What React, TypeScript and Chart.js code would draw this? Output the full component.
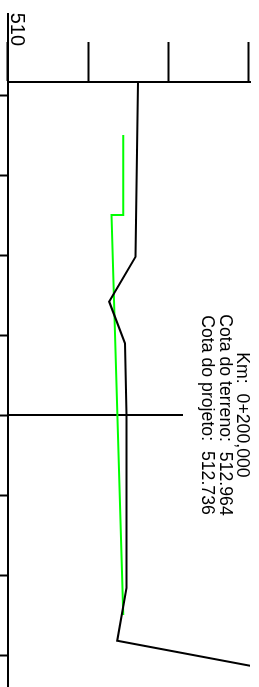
import React, { useEffect, useRef } from 'react';
import { Chart, registerables } from 'chart.js';

Chart.register(...registerables);

// Cross-section data (distance from axis in m, elevation in m)
const terrainDistance = [-20.81, -9.89, -7.08, -4.48, 0, 10.81, 14.11, 16.0];
const terrainElevation = [513.25, 513.19, 512.53, 512.925, 512.964, 512.96, 512.73, 516.75];

const projectDistance = [-17.5, -12.5, -12.5, 12.5];
const projectElevation = [512.883, 512.883, 512.59, 512.88];

const stationDistance = [0, 0];
const stationElevation = [510, 514.375];

const baseDistance = [-25.125, -20.8125];
const baseElevation = [510, 510];

const xTickValues = [-20, -15, -10, -5, 0, 5, 10, 15];
const yTickValues = [510, 512, 514, 516];
const yTickLabels: Record<number, string> = { 510: '510' };

const infoLines = ['Km:  0+200,000', 'Cota do terreno:  512.964', 'Cota do projeto:  512.736'];

const xMin = -20.8125;
const xMax = 17;
const yMin = 510;
const yMax = 516.05;

const toPoints = (xs: number[], ys: number[]) => xs.map((x, i) => ({ x, y: ys[i] }));

const infoPlugin = {
  id: 'infoText',
  afterDatasetsDraw(chart: any) {
    const { ctx, chartArea, scales } = chart;
    const x = scales.x.getPixelForValue(0);
    ctx.save();
    ctx.fillStyle = '#000';
    ctx.font = '17.7px "Liberation Sans", Arial, sans-serif';
    ctx.textAlign = 'center';
    ctx.textBaseline = 'alphabetic';
    infoLines.forEach((line, i) => {
      ctx.fillText(line, x, chartArea.top + 12.5 + i * 17.8);
    });
    ctx.restore();
  },
};

export default function App() {
  const canvasRef = useRef<HTMLCanvasElement | null>(null);

  useEffect(() => {
    const canvas = canvasRef.current;
    if (!canvas) return;
    const chart = new Chart(canvas, {
      type: 'scatter',
      data: {
        datasets: [
          {
            label: 'Terreno',
            data: toPoints(terrainDistance, terrainElevation),
            showLine: true,
            borderColor: '#000000',
            borderWidth: 2,
            pointRadius: 0,
            tension: 0,
          },
          {
            label: 'Projeto',
            data: toPoints(projectDistance, projectElevation),
            showLine: true,
            borderColor: '#00ff00',
            borderWidth: 2,
            pointRadius: 0,
            tension: 0,
          },
          {
            label: 'Eixo',
            data: toPoints(stationDistance, stationElevation),
            showLine: true,
            borderColor: '#000000',
            borderWidth: 2,
            pointRadius: 0,
            tension: 0,
          },
          {
            label: 'Base',
            data: toPoints(baseDistance, baseElevation),
            showLine: true,
            borderColor: '#000000',
            borderWidth: 2,
            pointRadius: 0,
            tension: 0,
            clip: false,
          } as any,
        ],
      },
      options: {
        responsive: false,
        animation: false,
        devicePixelRatio: 1,
        layout: { padding: { top: 9, left: 0, right: 0, bottom: 0 } },
        plugins: {
          legend: { display: false },
          tooltip: { enabled: false },
          title: { display: false },
        },
        scales: {
          x: {
            type: 'linear',
            position: 'bottom',
            min: xMin,
            max: xMax,
            afterBuildTicks: (s: any) => {
              s.ticks = xTickValues.map((v) => ({ value: v }));
            },
            afterFit: (s: any) => {
              s.height = 8;
              s.paddingLeft = 0;
              s.paddingRight = 0;
            },
            ticks: { display: false },
            grid: {
              drawOnChartArea: false,
              drawTicks: true,
              tickLength: 8,
              tickWidth: 2,
              tickColor: '#000',
            },
            border: { display: true, color: '#000', width: 2 },
          },
          y: {
            type: 'linear',
            position: 'left',
            min: yMin,
            max: yMax,
            afterBuildTicks: (s: any) => {
              s.ticks = yTickValues.map((v) => ({ value: v }));
            },
            afterFit: (s: any) => {
              s.width = 82;
              s.paddingTop = 0;
              s.paddingBottom = 0;
            },
            ticks: {
              callback: (v: any) => yTickLabels[v as number] ?? '',
              padding: -4,
              labelOffset: -9,
              color: '#000',
              font: { size: 20, family: '"Liberation Sans", Arial, sans-serif' },
            },
            grid: {
              drawOnChartArea: false,
              drawTicks: true,
              tickLength: 40,
              tickWidth: 2,
              tickColor: '#000',
            },
            border: { display: true, color: '#000', width: 2 },
          },
        },
      } as any,
      plugins: [infoPlugin],
    });
    return () => chart.destroy();
  }, []);

  return (
    <div
      style={{
        position: 'fixed',
        left: 0,
        top: 0,
        width: 687,
        height: 259,
        transformOrigin: '0 0',
        transform: 'translateX(259px) rotate(90deg)',
        background: '#fff',
      }}
    >
      <canvas ref={canvasRef} width={687} height={259} style={{ display: 'block', width: 687, height: 259 }} />
    </div>
  );
}
